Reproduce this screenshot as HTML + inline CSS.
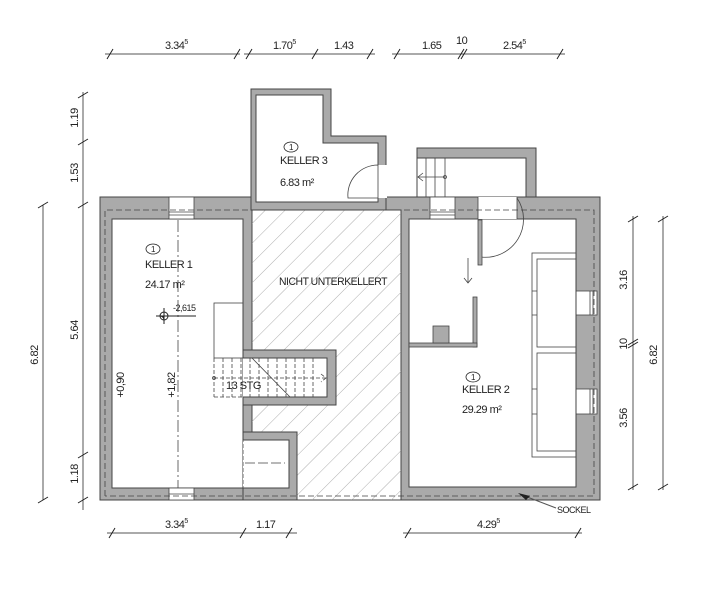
<!DOCTYPE html>
<html><head><meta charset="utf-8"><style>body{margin:0;background:#fff}svg{display:block}text{font-family:"Liberation Sans",sans-serif;fill:#222;letter-spacing:-0.5px}</style></head><body>
<svg width="711" height="600" viewBox="0 0 711 600" xmlns="http://www.w3.org/2000/svg">
<defs><pattern id="h" width="14" height="14" patternUnits="userSpaceOnUse" patternTransform="rotate(45)"><line x1="0" y1="0" x2="0" y2="14" stroke="#999" stroke-width="0.8"/></pattern></defs>
<g stroke="#444" stroke-width="1">
<rect x="100" y="197" width="500" height="303" fill="#aaa"/>
<rect x="112" y="219" width="131" height="269" fill="#fff"/>
<rect x="252" y="210" width="149" height="290" fill="#fff"/>
<rect x="252" y="210" width="149" height="290" fill="url(#h)" stroke="none"/>
<rect x="409" y="219" width="167" height="268" fill="#fff"/>
<path d="M251 89H331V136H386V210H251Z" fill="#aaa"/>
<path d="M256 95H323V143H378V202H256Z" fill="#fff"/>
<rect x="377" y="165" width="10" height="33" fill="#fff" stroke="none"/>
<path d="M378 165V198H348A30 30 0 0 1 378 165" fill="none" stroke-width="0.8"/>
<rect x="243" y="350" width="93" height="55" fill="#aaa"/>
<rect x="243" y="358" width="84" height="39" fill="#fff" stroke="none"/>
<path d="M243 358H327V397H243" fill="none"/>
<rect x="243" y="432" width="54" height="68" fill="#aaa"/>
<rect x="243" y="440" width="46" height="48" fill="#fff" stroke="none"/>
<path d="M243 440H289V488H243" fill="none"/>
<path d="M417 148H536V197H526V158H417Z" fill="#aaa"/>
<line x1="417" y1="158" x2="417" y2="197"/>
</g>
<g stroke="#444" stroke-width="0.8" fill="none">
<line x1="426" y1="158" x2="426" y2="197"/><line x1="435" y1="158" x2="435" y2="197"/><line x1="445" y1="158" x2="445" y2="197"/>
<path d="M445 177H418M423 173L418 177L423 181"/><circle cx="445" cy="177" r="1.5"/>
<rect x="169" y="197" width="25" height="22" fill="#fff"/><line x1="169" y1="212" x2="194" y2="212"/><line x1="169" y1="215" x2="194" y2="215"/>
<rect x="169" y="488" width="25" height="12" fill="#fff"/><line x1="169" y1="494" x2="194" y2="494"/>
<rect x="430" y="197" width="25" height="22" fill="#fff"/><line x1="430" y1="212" x2="455" y2="212"/><line x1="430" y1="215" x2="455" y2="215"/>
<rect x="478" y="197" width="39" height="22" fill="#fff" stroke="none"/><line x1="478" y1="197" x2="478" y2="219"/><line x1="517" y1="197" x2="517" y2="219"/>
<path d="M517 198A38 38 0 0 1 481 257"/>
<rect x="576" y="291" width="21" height="24" fill="#fff"/><line x1="590" y1="291" x2="590" y2="315"/><line x1="593" y1="291" x2="593" y2="315"/>
<rect x="576" y="389" width="21" height="25" fill="#fff"/><line x1="590" y1="389" x2="590" y2="414"/><line x1="593" y1="389" x2="593" y2="414"/>
<path d="M105 496V210H594V496H105" stroke-dasharray="6 3"/>
<rect x="532" y="253" width="44" height="204"/>
<rect x="537" y="259" width="39" height="88"/><rect x="537" y="353" width="39" height="98"/>
<path d="M532 291H537M532 315H537M532 389H537M532 414H537"/>
<rect x="214" y="303" width="29" height="55"/>
<path d="M214 358V397M214 397H243" stroke-dasharray="4 2"/>
<path d="M223 358V397M232 358V397M241 358V397M250 358V397M259 358V397M268 358V397M277 358V397M286 358V397M295 358V397M304 358V397M313 358V397" stroke-dasharray="4 2"/>
<path d="M214 378H326M321 374L326 378L321 382" stroke-dasharray="4 2"/><circle cx="214" cy="378" r="1.5"/>
<line x1="252" y1="358" x2="290" y2="397"/>
<path d="M243 432V488" stroke-dasharray="4 2"/><path d="M245 463H285" stroke-dasharray="10 3"/>
<line x1="178" y1="220" x2="178" y2="488" stroke-dasharray="12 3 2 3"/>
<path d="M468 258V283M464 278L468 283L472 278"/>
</g>
<g fill="#aaa" stroke="#444" stroke-width="0.8">
<rect x="473" y="297" width="4" height="50"/><rect x="409" y="343" width="68" height="4"/>
<rect x="478" y="220" width="4" height="45"/><rect x="433" y="326" width="16" height="17"/>
</g>
<g stroke="#222" fill="none"><circle cx="164" cy="316" r="4"/><path d="M164 316V320A4 4 0 0 0 160 316Z" fill="#222"/><path d="M156 316H196M164 308V324"/></g>
<g stroke="#555" stroke-width="1" fill="none">
<path d="M105 54H240M244 54H375M392 54H565"/>
<path d="M83 92V510M43 205V500"/>
<path d="M107 533H297M403 533H582"/>
<path d="M633 216V490M663 216V490"/>
<path d="M522 495L556 508"/>
</g>
<g stroke="#222" stroke-width="1">
<path d="M107 59L113 49M234 59L240 49M246 59L252 49M312 59L318 49M367 59L373 49M394 59L400 49M458 59L464 49M461 59L467 49M557 59L563 49"/>
<path d="M78 98L88 92M78 145L88 139M78 208L88 202M78 458L88 452M78 503L88 497M38 208L48 202M38 503L48 497"/>
<path d="M109 538L115 528M240 538L246 528M286 538L292 528M405 538L411 528M575 538L581 528"/>
<path d="M628 222L638 216M628 345L638 339M628 348L638 342M628 490L638 484M658 222L668 216M658 490L668 484"/>
</g>
<path d="M518 493L530 496L526 500Z" fill="#222"/>
<g font-size="11">
<text x="165" y="49">3.34<tspan font-size="7" dy="-5">5</tspan></text>
<text x="273" y="49">1.70<tspan font-size="7" dy="-5">5</tspan></text>
<text x="334" y="49">1.43</text>
<text x="422" y="49">1.65</text>
<text x="456" y="44">10</text>
<text x="503" y="49">2.54<tspan font-size="7" dy="-5">5</tspan></text>
<text x="165" y="528">3.34<tspan font-size="7" dy="-5">5</tspan></text>
<text x="256" y="528">1.17</text>
<text x="477" y="528">4.29<tspan font-size="7" dy="-5">5</tspan></text>
<text x="557" y="513" font-size="9">SOCKEL</text>
<text transform="translate(78,118) rotate(-90)" text-anchor="middle">1.19</text>
<text transform="translate(78,173) rotate(-90)" text-anchor="middle">1.53</text>
<text transform="translate(78,330) rotate(-90)" text-anchor="middle">5.64</text>
<text transform="translate(78,474) rotate(-90)" text-anchor="middle">1.18</text>
<text transform="translate(38,355) rotate(-90)" text-anchor="middle">6.82</text>
<text transform="translate(627,280) rotate(-90)" text-anchor="middle">3.16</text>
<text transform="translate(627,344) rotate(-90)" text-anchor="middle">10</text>
<text transform="translate(627,418) rotate(-90)" text-anchor="middle">3.56</text>
<text transform="translate(657,355) rotate(-90)" text-anchor="middle">6.82</text>
<text transform="translate(124,385) rotate(-90)" text-anchor="middle">+0,90</text>
<text transform="translate(175,385) rotate(-90)" text-anchor="middle">+1,82</text>
<text x="173" y="311" font-size="9">-2,615</text>
<text x="280" y="164">KELLER 3</text><text x="280" y="186">6.83 m²</text>
<text x="145" y="268">KELLER 1</text><text x="145" y="288">24.17 m²</text>
<text x="279" y="285" textLength="108" lengthAdjust="spacingAndGlyphs">NICHT UNTERKELLERT</text>
<text x="226" y="389">13 STG</text>
<text x="462" y="393">KELLER 2</text><text x="462" y="413">29.29 m²</text>
</g>
<g fill="none" stroke="#222" stroke-width="0.8">
<ellipse cx="291" cy="147" rx="7" ry="5"/><ellipse cx="153" cy="249" rx="7" ry="5"/><ellipse cx="473" cy="377" rx="7" ry="5"/>
</g>
<g font-size="8" text-anchor="middle"><text x="291" y="150">1</text><text x="153" y="252">1</text><text x="473" y="380">1</text></g>
</svg>
</body></html>
